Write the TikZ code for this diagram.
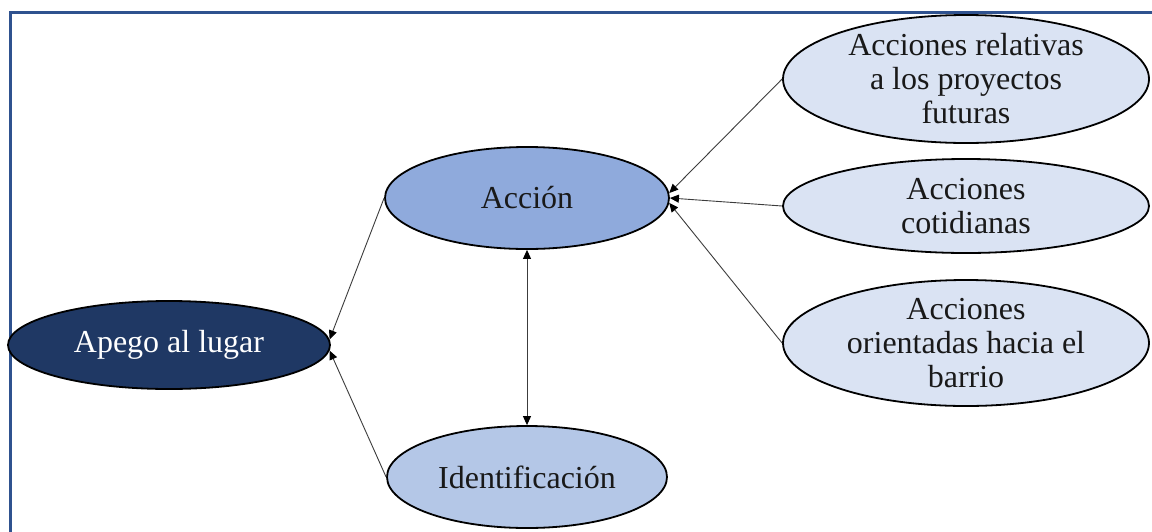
\documentclass[tikz,border=0pt]{standalone}
\usepackage{fontspec}
\setmainfont{Liberation Serif}
\usetikzlibrary{shapes.geometric,arrows.meta}
\definecolor{navy}{RGB}{31,56,100}
\definecolor{midblue}{RGB}{143,170,220}
\definecolor{paleblue}{RGB}{180,199,231}
\definecolor{lightblue}{RGB}{218,227,243}
\definecolor{frameblue}{RGB}{47,82,143}
\definecolor{linegray}{RGB}{60,60,60}
\definecolor{inkblack}{RGB}{25,25,25}
\begin{document}
\begin{tikzpicture}[x=1pt,y=-1pt,
  ell/.style={ellipse, draw=black, line width=1.8pt, inner sep=0pt},
  lbl/.style={font=\fontsize{32}{34}\selectfont, align=center, text=inkblack, inner sep=0pt},
  tip/.tip={Triangle[length=9pt,width=8pt,color=black]},
  conn/.style={draw=linegray, line width=0.9pt, -tip},
  dbl/.style={draw=linegray, line width=0.9pt, tip-tip},
]
\useasboundingbox (0,0) rectangle (1152,531);
\clip (0,0) rectangle (1152,531);
\fill[white] (0,0) rectangle (1152,531);
\draw[frameblue, line width=3pt] (10,533) -- (10,12) -- (1154,12);

\node[ell, fill=navy, minimum width=322pt, minimum height=88pt,
      label={[lbl,text=white]center:Apego al lugar}] (apego) at (169,345) {};
\node[ell, fill=midblue, minimum width=284pt, minimum height=102pt,
      label={[lbl]center:Acción}] (acc) at (527,198) {};
\node[ell, fill=paleblue, minimum width=280pt, minimum height=102pt,
      label={[lbl]center:Identificación}] (ident) at (527,477) {};
\node[ell, fill=lightblue, minimum width=366pt, minimum height=128pt,
      label={[lbl]center:Acciones relativas\\a los proyectos\\futuras}] (rel) at (966,79) {};
\node[ell, fill=lightblue, minimum width=366pt, minimum height=94pt,
      label={[lbl]center:Acciones\\cotidianas}] (cot) at (966,206) {};
\node[ell, fill=lightblue, minimum width=366pt, minimum height=126pt,
      label={[lbl]center:Acciones\\orientadas hacia el\\barrio}] (ori) at (966,343) {};

\draw[conn] (acc.west) -- (apego.2.5);
\draw[conn] (ident.west) -- (apego.-2.5);
\draw[dbl] (acc.south) -- (ident.north);
\draw[conn] (rel.west) -- (acc.2);
\draw[conn] (cot.west) -- (acc.east);
\draw[conn] (ori.west) -- (acc.-2);
\end{tikzpicture}
\end{document}
